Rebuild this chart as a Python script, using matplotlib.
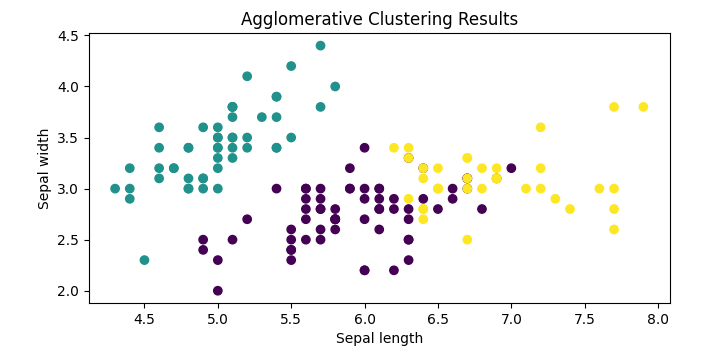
import matplotlib
matplotlib.use("Agg")
import matplotlib.pyplot as plt
import numpy as np

sepal_length = [
    5.1, 4.9, 4.7, 4.6, 5.0, 5.4, 4.6, 5.0, 4.4, 4.9, 5.4, 4.8, 4.8, 4.3, 5.8, 5.7, 5.4, 5.1, 5.7, 5.1,
    5.4, 5.1, 4.6, 5.1, 4.8, 5.0, 5.0, 5.2, 5.2, 4.7, 4.8, 5.4, 5.2, 5.5, 4.9, 5.0, 5.5, 4.9, 4.4, 5.1,
    5.0, 4.5, 4.4, 5.0, 5.1, 4.8, 5.1, 4.6, 5.3, 5.0,
    7.0, 6.4, 6.9, 5.5, 6.5, 5.7, 6.3, 4.9, 6.6, 5.2, 5.0, 5.9, 6.0, 6.1, 5.6, 6.7, 5.6, 5.8, 6.2, 5.6,
    5.9, 6.1, 6.3, 6.1, 6.4, 6.6, 6.8, 6.7, 6.0, 5.7, 5.5, 5.5, 5.8, 6.0, 5.4, 6.0, 6.7, 6.3, 5.6, 5.5,
    5.5, 6.1, 5.8, 5.0, 5.6, 5.7, 5.7, 6.2, 5.1, 5.7,
    6.3, 5.8, 7.1, 6.3, 6.5, 7.6, 4.9, 7.3, 6.7, 7.2, 6.5, 6.4, 6.8, 5.7, 5.8, 6.4, 6.5, 7.7, 7.7, 6.0,
    6.9, 5.6, 7.7, 6.3, 6.7, 7.2, 6.2, 6.1, 6.4, 7.2, 7.4, 7.9, 6.4, 6.3, 6.1, 7.7, 6.3, 6.4, 6.0, 6.9,
    6.7, 6.9, 5.8, 6.8, 6.7, 6.7, 6.3, 6.5, 6.2, 5.9,
]
sepal_width = [
    3.5, 3.0, 3.2, 3.1, 3.6, 3.9, 3.4, 3.4, 2.9, 3.1, 3.7, 3.4, 3.0, 3.0, 4.0, 4.4, 3.9, 3.5, 3.8, 3.8,
    3.4, 3.7, 3.6, 3.3, 3.4, 3.0, 3.4, 3.5, 3.4, 3.2, 3.1, 3.4, 4.1, 4.2, 3.1, 3.2, 3.5, 3.6, 3.0, 3.4,
    3.5, 2.3, 3.2, 3.5, 3.8, 3.0, 3.8, 3.2, 3.7, 3.3,
    3.2, 3.2, 3.1, 2.3, 2.8, 2.8, 3.3, 2.4, 2.9, 2.7, 2.0, 3.0, 2.2, 2.9, 2.9, 3.1, 3.0, 2.7, 2.2, 2.5,
    3.2, 2.8, 2.5, 2.8, 2.9, 3.0, 2.8, 3.0, 2.9, 2.6, 2.4, 2.4, 2.7, 2.7, 3.0, 3.4, 3.1, 2.3, 3.0, 2.5,
    2.6, 3.0, 2.6, 2.3, 2.7, 3.0, 2.9, 2.9, 2.5, 2.8,
    3.3, 2.7, 3.0, 2.9, 3.0, 3.0, 2.5, 2.9, 2.5, 3.6, 3.2, 2.7, 3.0, 2.5, 2.8, 3.2, 3.0, 3.8, 2.6, 2.2,
    3.2, 2.8, 2.8, 2.7, 3.3, 3.2, 2.8, 3.0, 2.8, 3.0, 2.8, 3.8, 2.8, 2.8, 2.6, 3.0, 3.4, 3.1, 3.0, 3.1,
    3.1, 3.1, 2.7, 3.2, 3.3, 3.0, 2.5, 3.0, 3.4, 3.0,
]
cluster_labels = [
    1, 1, 1, 1, 1, 1, 1, 1, 1, 1, 1, 1, 1, 1, 1, 1, 1, 1, 1, 1, 1, 1, 1, 1, 1,
    1, 1, 1, 1, 1, 1, 1, 1, 1, 1, 1, 1, 1, 1, 1, 1, 1, 1, 1, 1, 1, 1, 1, 1, 1,
    0, 0, 0, 0, 0, 0, 0, 0, 0, 0, 0, 0, 0, 0, 0, 0, 0, 0, 0, 0, 0, 0, 0, 0, 0,
    0, 0, 0, 0, 0, 0, 0, 0, 0, 0, 0, 0, 0, 0, 0, 0, 0, 0, 0, 0, 0, 0, 0, 0, 0,
    2, 0, 2, 2, 2, 2, 0, 2, 2, 2, 2, 2, 2, 0, 0, 2, 2, 2, 2, 0, 2, 0, 2, 0, 2,
    2, 0, 0, 2, 2, 2, 2, 2, 0, 0, 2, 2, 2, 0, 2, 2, 2, 0, 2, 2, 2, 0, 2, 2, 0,
]

fig = plt.figure(figsize=(7.21, 3.55), dpi=100)
ax = fig.add_axes([0.123, 0.1465, 0.806, 0.7595])
ax.scatter(sepal_length, sepal_width, c=cluster_labels, cmap="viridis")
ax.set_title("Agglomerative Clustering Results")
ax.set_xlabel("Sepal length")
ax.set_ylabel("Sepal width")
fig.savefig("out.png", dpi=100)
